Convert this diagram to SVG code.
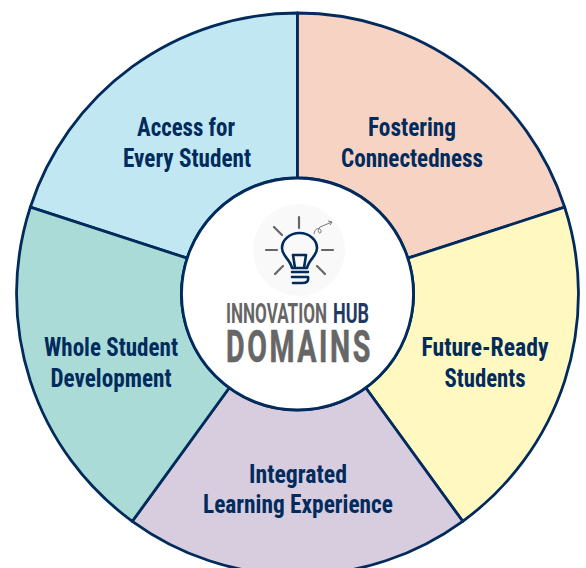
<svg xmlns="http://www.w3.org/2000/svg" width="586" height="568" viewBox="0 0 586 568">
<style>
.s{stroke:#002b5c;stroke-width:2.8;stroke-linejoin:round}
.t{font-family:"Liberation Sans Narrow","Roboto Condensed",Roboto,sans-serif;font-weight:700;font-size:25px;fill:#002b5c;text-anchor:middle}
.g{font-family:"Liberation Sans Narrow",Roboto,sans-serif;font-weight:700;fill:#666;text-anchor:middle}
.r{stroke:#666;stroke-width:2.2;stroke-linecap:round;fill:none}
.b{stroke:#002b5c;stroke-width:2.6;fill:none;stroke-linecap:round;stroke-linejoin:round}
</style>
<rect width="586" height="568" fill="#fff"/>
<g id="node-access"><path class="s" fill="#c1e8f2" d="M297.5 13A281 281 0 0 0 30.3 207.2L187.2 258.2A116 116 0 0 1 297.5 178Z"/><text class="t"><tspan x="186" y="136" textLength="98" lengthAdjust="spacingAndGlyphs">Access for</tspan><tspan x="187" y="167" textLength="128" lengthAdjust="spacingAndGlyphs">Every Student</tspan></text></g>
<g id="node-fostering"><path class="s" fill="#f7d3c4" d="M297.5 13A281 281 0 0 1 564.7 207.2L407.8 258.2A116 116 0 0 0 297.5 178Z"/><text class="t"><tspan x="412" y="136" textLength="88" lengthAdjust="spacingAndGlyphs">Fostering</tspan><tspan x="412" y="167" textLength="142" lengthAdjust="spacingAndGlyphs">Connectedness</tspan></text></g>
<g id="node-future"><path class="s" fill="#fff9c1" d="M564.7 207.2A281 281 0 0 1 462.7 521.3L365.7 387.8A116 116 0 0 0 407.8 258.2Z"/><text class="t"><tspan x="485" y="356" textLength="127" lengthAdjust="spacingAndGlyphs">Future-Ready</tspan><tspan x="485" y="387" textLength="81" lengthAdjust="spacingAndGlyphs">Students</tspan></text></g>
<g id="node-integrated"><path class="s" fill="#d8ccdf" d="M462.7 521.3A281 281 0 0 1 132.3 521.3L229.3 387.8A116 116 0 0 0 365.7 387.8Z"/><text class="t"><tspan x="298" y="483" textLength="98" lengthAdjust="spacingAndGlyphs">Integrated</tspan><tspan x="298" y="513" textLength="190" lengthAdjust="spacingAndGlyphs">Learning Experience</tspan></text></g>
<g id="node-whole"><path class="s" fill="#abdbd7" d="M132.3 521.3A281 281 0 0 1 30.3 207.2L187.2 258.2A116 116 0 0 0 229.3 387.8Z"/><text class="t"><tspan x="111" y="356" textLength="134" lengthAdjust="spacingAndGlyphs">Whole Student</tspan><tspan x="111" y="387" textLength="121" lengthAdjust="spacingAndGlyphs">Development</tspan></text></g>
<g id="node-center">
<circle class="s" cx="297.5" cy="294" r="116" fill="#fff"/>
<circle cx="299" cy="250" r="46" fill="#f9f9f9"/>
<path class="r" d="M299 217V228M274 227L282 235M266 250H277M322 250H333M275 274L283 266M325 274L317 266"/>
<path class="b" d="M292 268C290 259 282 256 282 248A17.5 15 0 0 1 317 248C317 256 309 259 307 268ZM295 268L293 255H306L304 268M292 272H308M292 277H308C309 282 306 283 302 283H293"/>
<path d="M314 234C315 226 322 228 321 232C320 235 316 231 320 227L332 222M328 221L332 222L330 225" fill="none" stroke="#777" stroke-width="1"/>
<text class="g" font-size="27" x="276.5" y="323" textLength="101" lengthAdjust="spacingAndGlyphs">INNOVATION</text>
<text class="g" font-size="27" x="351" y="323" textLength="36" lengthAdjust="spacingAndGlyphs" style="fill:#1f3864">HUB</text>
<text class="g" font-size="44" x="299.5" y="362" letter-spacing="4" textLength="147" lengthAdjust="spacingAndGlyphs" stroke="#666" stroke-width="0.6">DOMAINS</text>
</g>
</svg>
